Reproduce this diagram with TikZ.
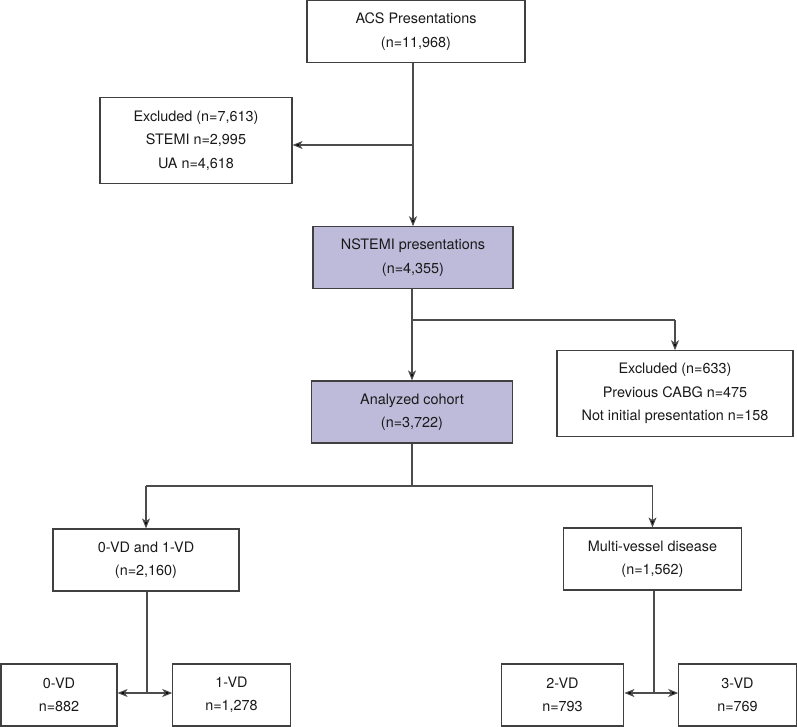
\documentclass[tikz,border=0pt]{standalone}
\usepackage{fontspec}
\setmainfont{TeX Gyre Heros}
\usetikzlibrary{positioning,calc,arrows.meta}

\begin{document}
\begin{tikzpicture}[x=0.75pt, y=-0.75pt]
\tikzstyle{box} = [draw=black!75, line width=0.9pt, align=center, inner sep=0pt,
  font=\fontsize{10.8}{17.5}\selectfont, text=black!90];
\tikzstyle{kept} = [box, fill={rgb,255:red,190;green,187;blue,218}];
\tikzstyle{arr} = [draw=black!70, line width=0.8pt, -{Stealth[length=7.5pt,width=6pt,inset=2pt,fill=black]}];
\tikzstyle{ln} = [draw=black!70, line width=0.8pt];

\useasboundingbox (0, 0) rectangle (797, 727);

% flow boxes
\node[box, minimum width=163.5pt, minimum height=46pt] (acs) at (416, 31.5) {ACS Presentations\\(n=11,968)};
\node[box, minimum width=144pt, minimum height=64pt] (excl1) at (196, 140.5) {Excluded (n=7,613)\\STEMI n=2,995\\UA n=4,618};
\node[kept, minimum width=150pt, minimum height=46pt] (nstemi) at (413, 257.5) {NSTEMI presentations\\(n=4,355)};
\node[box, minimum width=177pt, minimum height=64pt] (excl2) at (675, 393.5) {Excluded (n=633)\\Previous CABG n=475\\Not initial presentation n=158};
\node[kept, minimum width=151pt, minimum height=46.5pt] (cohort) at (412, 412) {Analyzed cohort\\(n=3,722)};
\node[box, minimum width=139.5pt, minimum height=46.5pt] (vd01) at (146, 560) {0-VD and 1-VD\\(n=2,160)};
\node[box, minimum width=134pt, minimum height=46.5pt] (mvd) at (652.5, 559) {Multi-vessel disease\\(n=1,562)};
\node[box, minimum width=87pt, minimum height=46.5pt] (vd0) at (59, 695) {0-VD\\n=882};
\node[box, minimum width=88pt, minimum height=46.5pt] (vd1) at (231.5, 695) {1-VD\\n=1,278};
\node[box, minimum width=92pt, minimum height=46.5pt] (vd2) at (562.5, 695) {2-VD\\n=793};
\node[box, minimum width=88pt, minimum height=46.5pt] (vd3) at (737.5, 695) {3-VD\\n=769};

% branch points
\coordinate (b1) at (413, 145);
\coordinate (b2) at (413, 320);
\coordinate (b3) at (412, 486);
\coordinate (b4) at (147, 693);
\coordinate (b5) at (654, 693);

% connectors
\draw[arr] (acs.south -| nstemi.north) -- (nstemi.north);
\draw[arr] (b1) -- (excl1.east |- b1);
\draw[arr] (nstemi.south -| cohort.north) -- (cohort.north);
\draw[ln] (b2) -- (b2 -| excl2.north);
\draw[arr] (b2 -| excl2.north) -- (excl2.north);
\draw[ln] (cohort.south) -- (b3);
\draw[ln] (b3 -| vd01.north) -- (b3 -| mvd.north);
\draw[arr] (b3 -| vd01.north) -- (vd01.north);
\draw[arr] (b3 -| mvd.north) -- (mvd.north);
\draw[ln] (vd01.south -| b4) -- (b4);
\draw[arr] (b4) -- (vd0.east |- b4);
\draw[arr] (b4) -- (vd1.west |- b4);
\draw[ln] (mvd.south -| b5) -- (b5);
\draw[arr] (b5) -- (vd2.east |- b5);
\draw[arr] (b5) -- (vd3.west |- b5);
\end{tikzpicture}
\end{document}
